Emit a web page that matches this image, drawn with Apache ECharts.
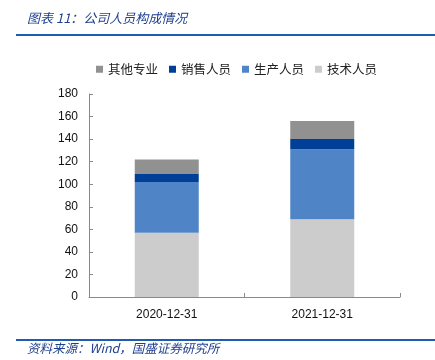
<!DOCTYPE html>
<html><head><meta charset="utf-8">
<script src="https://cdn.jsdelivr.net/npm/echarts@6/dist/echarts.min.js"></script>
<style>html,body{margin:0;padding:0;background:#fff}#c{width:435px;height:360px}</style>
</head><body><div id="c"></div>
<script>
const categories = ['2020-12-31', '2021-12-31'];
const techStaff = [57, 69];
const prodStaff = [45, 62];
const salesStaff = [7, 9];
const otherStaff = [13, 16];
const yTicks = [0, 20, 40, 60, 80, 100, 120, 140, 160, 180];

const chart = echarts.init(document.getElementById('c'));
const cjk = '"Noto Sans CJK SC", sans-serif';
const num = '"Liberation Sans", Arial, sans-serif';
const barW = 64;
chart.setOption({
  animation: false,
  backgroundColor: '#fff',
  graphic: [
    {type: 'text', left: 27, top: 12, style: {text: '图表 11：公司人员构成情况', font: 'italic 13px ' + cjk, fill: '#1F3F8F'}},
    {type: 'rect', shape: {x: 16, y: 34, width: 419, height: 2}, style: {fill: '#1F5BB0'}},
    {type: 'rect', shape: {x: 16, y: 339, width: 419, height: 2}, style: {fill: '#1F5BB0'}},
    {type: 'text', left: 27, top: 342, style: {text: '资料来源：Wind，国盛证券研究所', font: 'italic 12.5px ' + cjk, fill: '#1F3F8F'}}
  ],
  legend: {
    top: 58, left: 91,
    itemWidth: 7, itemHeight: 7, itemGap: 11,
    icon: 'rect',
    textStyle: {fontFamily: cjk, fontSize: 12.5, color: '#222'},
    data: ['其他专业', '销售人员', '生产人员', '技术人员']
  },
  grid: {left: 89, right: 35, top: 94, bottom: 63},
  xAxis: {
    type: 'category', data: categories,
    axisLine: {lineStyle: {color: '#898989', width: 1}},
    axisTick: {show: true, inside: true, length: 4, alignWithLabel: false, lineStyle: {color: '#898989'}},
    axisLabel: {fontFamily: num, fontSize: 12, color: '#111', margin: 12}
  },
  yAxis: {
    type: 'value', min: yTicks[0], max: yTicks[yTicks.length - 1], interval: 20,
    axisLine: {show: true, lineStyle: {color: '#898989'}},
    axisTick: {show: true, inside: true, length: 4, lineStyle: {color: '#898989'}},
    splitLine: {show: false},
    axisLabel: {fontFamily: num, fontSize: 12, color: '#111', margin: 11}
  },
  series: [
    {name: '技术人员', type: 'bar', stack: 's', data: techStaff, barWidth: barW, itemStyle: {color: '#CCCCCC'}},
    {name: '生产人员', type: 'bar', stack: 's', data: prodStaff, barWidth: barW, itemStyle: {color: '#4F84C6'}},
    {name: '销售人员', type: 'bar', stack: 's', data: salesStaff, barWidth: barW, itemStyle: {color: '#003F98'}},
    {name: '其他专业', type: 'bar', stack: 's', data: otherStaff, barWidth: barW, itemStyle: {color: '#919191'}}
  ]
});
</script></body></html>
